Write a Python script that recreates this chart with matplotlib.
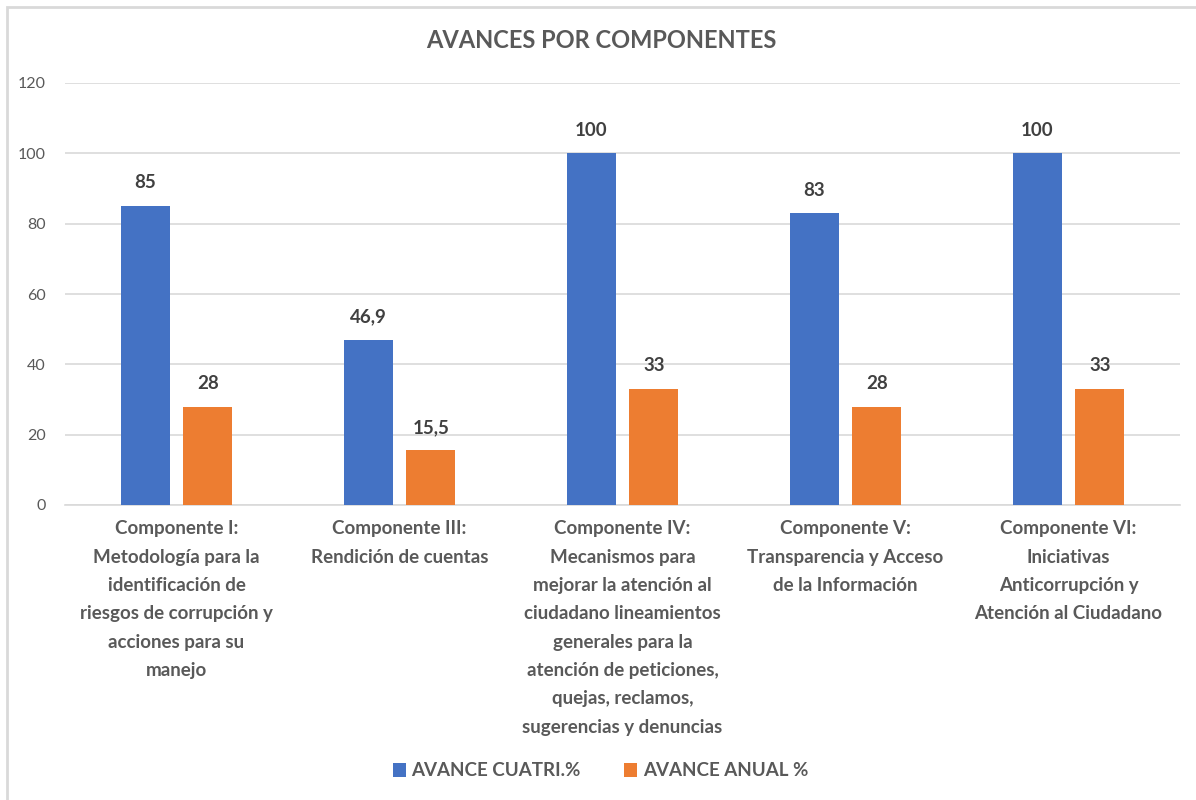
import matplotlib
matplotlib.use("Agg")
import matplotlib.pyplot as plt
import numpy as np
from matplotlib.patches import Rectangle

categories = [
    "Componente I:\nMetodología para la\nidentificación de\nriesgos de corrupción y\nacciones para su\nmanejo",
    "Componente III:\nRendición de cuentas",
    "Componente IV:\nMecanismos para\nmejorar la atención al\nciudadano lineamientos\ngenerales para la\natención de peticiones,\nquejas, reclamos,\nsugerencias y denuncias",
    "Componente V:\nTransparencia y Acceso\nde la Información",
    "Componente VI:\nIniciativas\nAnticorrupción y\nAtención al Ciudadano",
]
cuatri = [85, 46.9, 100, 83, 100]
anual = [28, 15.5, 33, 28, 33]
series_names = ["AVANCE CUATRI.%", "AVANCE ANUAL %"]
yticks = [0, 20, 40, 60, 80, 100, 120]

FONT = "Lato"
plt.rcParams["font.family"] = [FONT, "DejaVu Sans"]
TXT = "#595959"
BLUE = "#4472C4"
ORANGE = "#ED7D31"

fig = plt.figure(figsize=(11.96, 8), dpi=100)
fig.patches.append(Rectangle((7/1196, -0.1), 1.2, 1 - 7/800 + 0.1, transform=fig.transFigure,
                             fill=False, edgecolor="#d9d9d9", linewidth=2))
ax = fig.add_axes([65/1196, 1 - 505/800, (1180 - 65)/1196, (505 - 83)/800])

x = np.arange(len(categories))
w = 0.22
off = 0.141
b1 = ax.bar(x - off, cuatri, w, color=BLUE, label=series_names[0], zorder=3)
b2 = ax.bar(x + off, anual, w, color=ORANGE, label=series_names[1], zorder=3)

def fmt(v):
    s = f"{v:g}"
    return s.replace(".", ",")

for bars, vals in ((b1, cuatri), (b2, anual)):
    for r, v in zip(bars, vals):
        ax.annotate(fmt(v), (r.get_x() + r.get_width() / 2, v), xytext=(0, 10.5),
                    textcoords="offset points", ha="center", va="bottom",
                    fontsize=13.5, fontweight="bold", color="#404040")

ax.set_xlim(-0.5, len(categories) - 0.5)
ax.set_ylim(0, 120)
ax.set_yticks(yticks)
ax.set_yticklabels([str(t) for t in yticks], fontsize=11.5, color=TXT)
ax.yaxis.grid(True, color="#d9d9d9", linewidth=1.2, zorder=0)
ax.tick_params(axis="y", length=0, pad=14)
ax.tick_params(axis="x", length=0, pad=11)
ax.set_xticks(x)
ax.set_xticklabels(categories, fontsize=13.5, fontweight="bold", color=TXT, linespacing=1.81)
for s in ["top", "right", "left"]:
    ax.spines[s].set_visible(False)
ax.spines["bottom"].set_color("#d9d9d9")
ax.spines["bottom"].set_linewidth(1.2)

fig.text(0.503, 1 - 41/800, "AVANCES POR COMPONENTES", ha="center", va="center",
         fontsize=17, fontweight="bold", color=TXT)

leg = fig.legend(handles=[b1, b2], labels=series_names, loc="center", bbox_to_anchor=(0.502, 1 - 771/800),
                 ncol=2, frameon=False, handlelength=0.7, handleheight=0.7,
                 columnspacing=2.3, handletextpad=0.3, prop={"weight": "bold", "size": 13.5})
for t in leg.get_texts():
    t.set_color(TXT)
    t.set_fontweight("bold")

fig.savefig("out.png", dpi=100)
